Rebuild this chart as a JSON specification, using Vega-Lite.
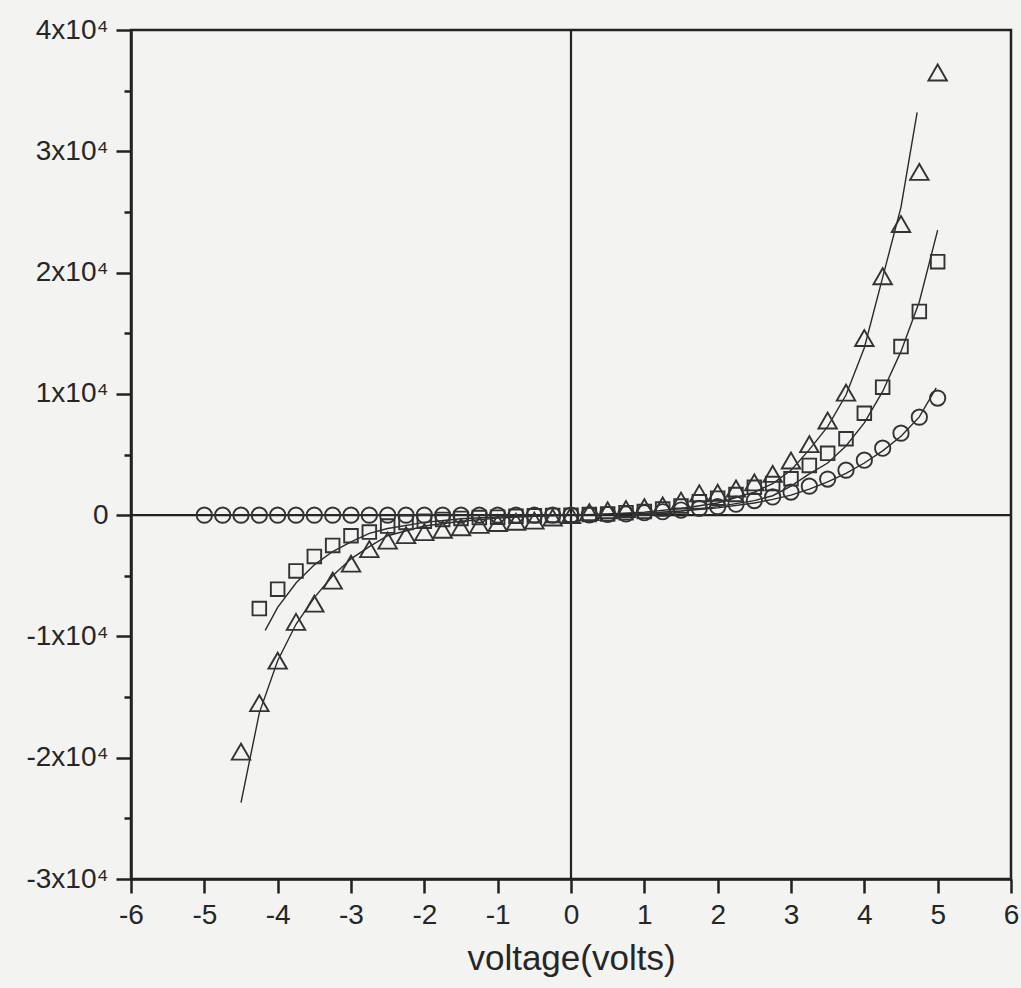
{
  "$schema": "https://vega.github.io/schema/vega-lite/v6.json",
  "width": 880,
  "height": 849,
  "autosize": {"type": "none"},
  "padding": {"left": 131, "top": 30, "right": 10, "bottom": 109},
  "background": "#f3f3f2",
  "config": {
    "view": {"stroke": "#222222", "strokeWidth": 2.5},
    "font": "Liberation Sans"
  },
  "datasets": {
    "pts": [
      {"v": -5.0, "j": 0, "s": "circle"}, {"v": -4.75, "j": 0, "s": "circle"}, {"v": -4.5, "j": 0, "s": "circle"}, {"v": -4.25, "j": 0, "s": "circle"},
      {"v": -4.0, "j": 0, "s": "circle"}, {"v": -3.75, "j": 0, "s": "circle"}, {"v": -3.5, "j": 0, "s": "circle"}, {"v": -3.25, "j": 0, "s": "circle"},
      {"v": -3.0, "j": 0, "s": "circle"}, {"v": -2.75, "j": 0, "s": "circle"}, {"v": -2.5, "j": 0, "s": "circle"}, {"v": -2.25, "j": 0, "s": "circle"},
      {"v": -2.0, "j": 0, "s": "circle"}, {"v": -1.75, "j": 0, "s": "circle"}, {"v": -1.5, "j": 0, "s": "circle"}, {"v": -1.25, "j": 0, "s": "circle"},
      {"v": -1.0, "j": 0, "s": "circle"}, {"v": -0.75, "j": 0, "s": "circle"}, {"v": -0.5, "j": 0, "s": "circle"}, {"v": -0.25, "j": 0, "s": "circle"},
      {"v": 0.0, "j": 0, "s": "circle"}, {"v": 0.25, "j": 20, "s": "circle"}, {"v": 0.5, "j": 60, "s": "circle"}, {"v": 0.75, "j": 100, "s": "circle"},
      {"v": 1.0, "j": 200, "s": "circle"}, {"v": 1.25, "j": 280, "s": "circle"}, {"v": 1.5, "j": 420, "s": "circle"}, {"v": 1.75, "j": 560, "s": "circle"},
      {"v": 2.0, "j": 700, "s": "circle"}, {"v": 2.25, "j": 900, "s": "circle"}, {"v": 2.5, "j": 1200, "s": "circle"}, {"v": 2.75, "j": 1500, "s": "circle"},
      {"v": 3.0, "j": 1900, "s": "circle"}, {"v": 3.25, "j": 2390, "s": "circle"}, {"v": 3.5, "j": 2970, "s": "circle"}, {"v": 3.75, "j": 3710, "s": "circle"},
      {"v": 4.0, "j": 4530, "s": "circle"}, {"v": 4.25, "j": 5520, "s": "circle"}, {"v": 4.5, "j": 6760, "s": "circle"}, {"v": 4.75, "j": 8080, "s": "circle"},
      {"v": 5.0, "j": 9650, "s": "circle"},

      {"v": -4.25, "j": -7700, "s": "square"}, {"v": -4.0, "j": -6100, "s": "square"}, {"v": -3.75, "j": -4600, "s": "square"}, {"v": -3.5, "j": -3400, "s": "square"},
      {"v": -3.25, "j": -2500, "s": "square"}, {"v": -3.0, "j": -1700, "s": "square"}, {"v": -2.75, "j": -1400, "s": "square"}, {"v": -2.5, "j": -900, "s": "square"},
      {"v": -2.25, "j": -600, "s": "square"}, {"v": -2.0, "j": -500, "s": "square"}, {"v": -1.75, "j": -350, "s": "square"}, {"v": -1.5, "j": -270, "s": "square"},
      {"v": -1.25, "j": -200, "s": "square"}, {"v": -1.0, "j": -170, "s": "square"}, {"v": -0.75, "j": -100, "s": "square"}, {"v": -0.5, "j": -50, "s": "square"},
      {"v": -0.25, "j": -20, "s": "square"}, {"v": 0.0, "j": 0, "s": "square"}, {"v": 0.25, "j": 50, "s": "square"}, {"v": 0.5, "j": 100, "s": "square"},
      {"v": 0.75, "j": 200, "s": "square"}, {"v": 1.0, "j": 300, "s": "square"}, {"v": 1.25, "j": 500, "s": "square"}, {"v": 1.5, "j": 750, "s": "square"},
      {"v": 1.75, "j": 1100, "s": "square"}, {"v": 2.0, "j": 1400, "s": "square"}, {"v": 2.25, "j": 1700, "s": "square"}, {"v": 2.5, "j": 2300, "s": "square"},
      {"v": 2.75, "j": 2600, "s": "square"}, {"v": 3.0, "j": 3000, "s": "square"}, {"v": 3.25, "j": 4100, "s": "square"}, {"v": 3.5, "j": 5100, "s": "square"},
      {"v": 3.75, "j": 6300, "s": "square"}, {"v": 4.0, "j": 8400, "s": "square"}, {"v": 4.25, "j": 10550, "s": "square"}, {"v": 4.5, "j": 13900, "s": "square"},
      {"v": 4.75, "j": 16800, "s": "square"}, {"v": 5.0, "j": 20900, "s": "square"},

      {"v": -4.5, "j": -19500, "s": "triangle"}, {"v": -4.25, "j": -15500, "s": "triangle"}, {"v": -4.0, "j": -12000, "s": "triangle"}, {"v": -3.75, "j": -8800, "s": "triangle"},
      {"v": -3.5, "j": -7300, "s": "triangle"}, {"v": -3.25, "j": -5400, "s": "triangle"}, {"v": -3.0, "j": -4000, "s": "triangle"}, {"v": -2.75, "j": -2800, "s": "triangle"},
      {"v": -2.5, "j": -2100, "s": "triangle"}, {"v": -2.25, "j": -1650, "s": "triangle"}, {"v": -2.0, "j": -1400, "s": "triangle"}, {"v": -1.75, "j": -1200, "s": "triangle"},
      {"v": -1.5, "j": -1000, "s": "triangle"}, {"v": -1.25, "j": -800, "s": "triangle"}, {"v": -1.0, "j": -650, "s": "triangle"}, {"v": -0.75, "j": -550, "s": "triangle"},
      {"v": -0.5, "j": -450, "s": "triangle"}, {"v": -0.25, "j": -200, "s": "triangle"}, {"v": 0.0, "j": 0, "s": "triangle"}, {"v": 0.25, "j": 250, "s": "triangle"},
      {"v": 0.5, "j": 400, "s": "triangle"}, {"v": 0.75, "j": 500, "s": "triangle"}, {"v": 1.0, "j": 660, "s": "triangle"}, {"v": 1.25, "j": 800, "s": "triangle"},
      {"v": 1.5, "j": 1200, "s": "triangle"}, {"v": 1.75, "j": 1800, "s": "triangle"}, {"v": 2.0, "j": 1850, "s": "triangle"}, {"v": 2.25, "j": 2200, "s": "triangle"},
      {"v": 2.5, "j": 2700, "s": "triangle"}, {"v": 2.75, "j": 3400, "s": "triangle"}, {"v": 3.0, "j": 4500, "s": "triangle"}, {"v": 3.25, "j": 5850, "s": "triangle"},
      {"v": 3.5, "j": 7800, "s": "triangle"}, {"v": 3.75, "j": 10100, "s": "triangle"}, {"v": 4.0, "j": 14600, "s": "triangle"}, {"v": 4.25, "j": 19700, "s": "triangle"},
      {"v": 4.5, "j": 24000, "s": "triangle"}, {"v": 4.75, "j": 28300, "s": "triangle"}, {"v": 5.0, "j": 36500, "s": "triangle"}
    ],
    "fit": [
      {"v": -5.0, "j": 0, "s": "circle"}, {"v": -3.0, "j": 0, "s": "circle"}, {"v": -1.0, "j": 0, "s": "circle"}, {"v": 0.0, "j": 0, "s": "circle"},
      {"v": 0.5, "j": 50, "s": "circle"}, {"v": 1.0, "j": 150, "s": "circle"}, {"v": 1.5, "j": 330, "s": "circle"}, {"v": 2.0, "j": 600, "s": "circle"},
      {"v": 2.5, "j": 1000, "s": "circle"}, {"v": 2.75, "j": 1300, "s": "circle"}, {"v": 3.0, "j": 1650, "s": "circle"}, {"v": 3.25, "j": 2150, "s": "circle"},
      {"v": 3.5, "j": 2750, "s": "circle"}, {"v": 3.75, "j": 3450, "s": "circle"}, {"v": 4.0, "j": 4300, "s": "circle"}, {"v": 4.25, "j": 5300, "s": "circle"},
      {"v": 4.5, "j": 6500, "s": "circle"}, {"v": 4.75, "j": 8100, "s": "circle"}, {"v": 4.98, "j": 10500, "s": "circle"},

      {"v": -4.17, "j": -9500, "s": "square"}, {"v": -4.0, "j": -7600, "s": "square"}, {"v": -3.75, "j": -5600, "s": "square"}, {"v": -3.5, "j": -4100, "s": "square"},
      {"v": -3.25, "j": -3000, "s": "square"}, {"v": -3.0, "j": -2200, "s": "square"}, {"v": -2.75, "j": -1500, "s": "square"}, {"v": -2.5, "j": -1100, "s": "square"},
      {"v": -2.0, "j": -600, "s": "square"}, {"v": -1.5, "j": -300, "s": "square"}, {"v": -1.0, "j": -150, "s": "square"}, {"v": -0.5, "j": -60, "s": "square"},
      {"v": 0.0, "j": 0, "s": "square"}, {"v": 0.5, "j": 60, "s": "square"}, {"v": 1.0, "j": 150, "s": "square"}, {"v": 1.5, "j": 350, "s": "square"},
      {"v": 2.0, "j": 700, "s": "square"}, {"v": 2.5, "j": 1200, "s": "square"}, {"v": 2.75, "j": 1600, "s": "square"}, {"v": 3.0, "j": 2400, "s": "square"},
      {"v": 3.25, "j": 3400, "s": "square"}, {"v": 3.5, "j": 4300, "s": "square"}, {"v": 3.75, "j": 5700, "s": "square"}, {"v": 4.0, "j": 7600, "s": "square"},
      {"v": 4.25, "j": 10200, "s": "square"}, {"v": 4.5, "j": 13500, "s": "square"}, {"v": 4.75, "j": 17600, "s": "square"}, {"v": 5.0, "j": 23500, "s": "square"},

      {"v": -4.5, "j": -23700, "s": "triangle"}, {"v": -4.25, "j": -16300, "s": "triangle"}, {"v": -4.0, "j": -12000, "s": "triangle"}, {"v": -3.75, "j": -9000, "s": "triangle"},
      {"v": -3.5, "j": -6800, "s": "triangle"}, {"v": -3.25, "j": -5000, "s": "triangle"}, {"v": -3.0, "j": -3600, "s": "triangle"}, {"v": -2.75, "j": -2600, "s": "triangle"},
      {"v": -2.5, "j": -1700, "s": "triangle"}, {"v": -2.0, "j": -900, "s": "triangle"}, {"v": -1.5, "j": -500, "s": "triangle"}, {"v": -1.0, "j": -250, "s": "triangle"},
      {"v": -0.5, "j": -100, "s": "triangle"}, {"v": 0.0, "j": 0, "s": "triangle"}, {"v": 0.5, "j": 100, "s": "triangle"}, {"v": 1.0, "j": 250, "s": "triangle"},
      {"v": 1.5, "j": 550, "s": "triangle"}, {"v": 2.0, "j": 1000, "s": "triangle"}, {"v": 2.5, "j": 1900, "s": "triangle"}, {"v": 2.75, "j": 2600, "s": "triangle"},
      {"v": 3.0, "j": 3700, "s": "triangle"}, {"v": 3.25, "j": 5400, "s": "triangle"}, {"v": 3.5, "j": 7300, "s": "triangle"}, {"v": 3.75, "j": 9900, "s": "triangle"},
      {"v": 4.0, "j": 13800, "s": "triangle"}, {"v": 4.25, "j": 19600, "s": "triangle"}, {"v": 4.5, "j": 25400, "s": "triangle"}, {"v": 4.72, "j": 33200, "s": "triangle"}
    ]
  },
  "layer": [
    {
      "data": {"values": [{"z": 0}]},
      "mark": {"type": "rule", "color": "#222222", "strokeWidth": 2.2},
      "encoding": {"x": {"field": "z", "type": "quantitative"}}
    },
    {
      "data": {"values": [{"z": 0}]},
      "mark": {"type": "rule", "color": "#222222", "strokeWidth": 2.2},
      "encoding": {"y": {"field": "z", "type": "quantitative"}}
    },
    {
      "data": {"name": "fit"},
      "mark": {"type": "line", "color": "#2a2a2a", "strokeWidth": 1.4},
      "encoding": {
        "x": {"field": "v", "type": "quantitative"},
        "y": {"field": "j", "type": "quantitative"},
        "detail": {"field": "s"}
      }
    },
    {
      "data": {"name": "pts"},
      "mark": {"type": "point", "filled": false, "color": "#333333", "strokeWidth": 1.9, "opacity": 1},
      "encoding": {
        "x": {
          "field": "v", "type": "quantitative",
          "scale": {"domain": [-6, 6], "nice": false, "zero": false},
          "axis": {
            "values": [-6, -5.5, -5, -4.5, -4, -3.5, -3, -2.5, -2, -1.5, -1, -0.5, 0, 0.5, 1, 1.5, 2, 2.5, 3, 3.5, 4, 4.5, 5, 5.5, 6],
            "labelExpr": "datum.value % 1 === 0 ? '' + datum.value : ''",
            "tickSize": {"condition": {"test": "datum.value % 1 === 0", "value": 14}, "value": 7},
            "title": "voltage(volts)",
            "titleFontSize": 35, "titleFontWeight": "normal", "titleColor": "#262626", "titlePadding": 12,
            "labelFontSize": 28, "labelColor": "#262626", "labelPadding": 8, "labelFlush": false, "labelOverlap": false,
            "grid": false, "domainColor": "#222222", "domainWidth": 2.5, "tickColor": "#222222", "tickWidth": 2.5
          }
        },
        "y": {
          "field": "j", "type": "quantitative",
          "scale": {"domain": [-30000, 40000], "nice": false},
          "axis": {
            "values": [-30000, -25000, -20000, -15000, -10000, -5000, 0, 5000, 10000, 15000, 20000, 25000, 30000, 35000, 40000],
            "labelExpr": "datum.value % 10000 === 0 ? (datum.value === 0 ? '0' : (datum.value / 10000) + 'x10⁴') : ''",
            "tickSize": {"condition": {"test": "datum.value % 10000 === 0", "value": 15}, "value": 7},
            "title": null,
            "labelFontSize": 28, "labelColor": "#262626", "labelPadding": 8, "labelFlush": false, "labelOverlap": false,
            "grid": false, "domainColor": "#222222", "domainWidth": 2.5, "tickColor": "#222222", "tickWidth": 2.5
          }
        },
        "shape": {"field": "s", "type": "nominal", "scale": {"domain": ["circle", "square", "triangle"], "range": ["circle", "square", "triangle-up"]}, "legend": null},
        "size": {"field": "s", "type": "nominal", "scale": {"type": "ordinal", "domain": ["circle", "square", "triangle"], "range": [235, 185, 340]}, "legend": null}
      }
    }
  ]
}
